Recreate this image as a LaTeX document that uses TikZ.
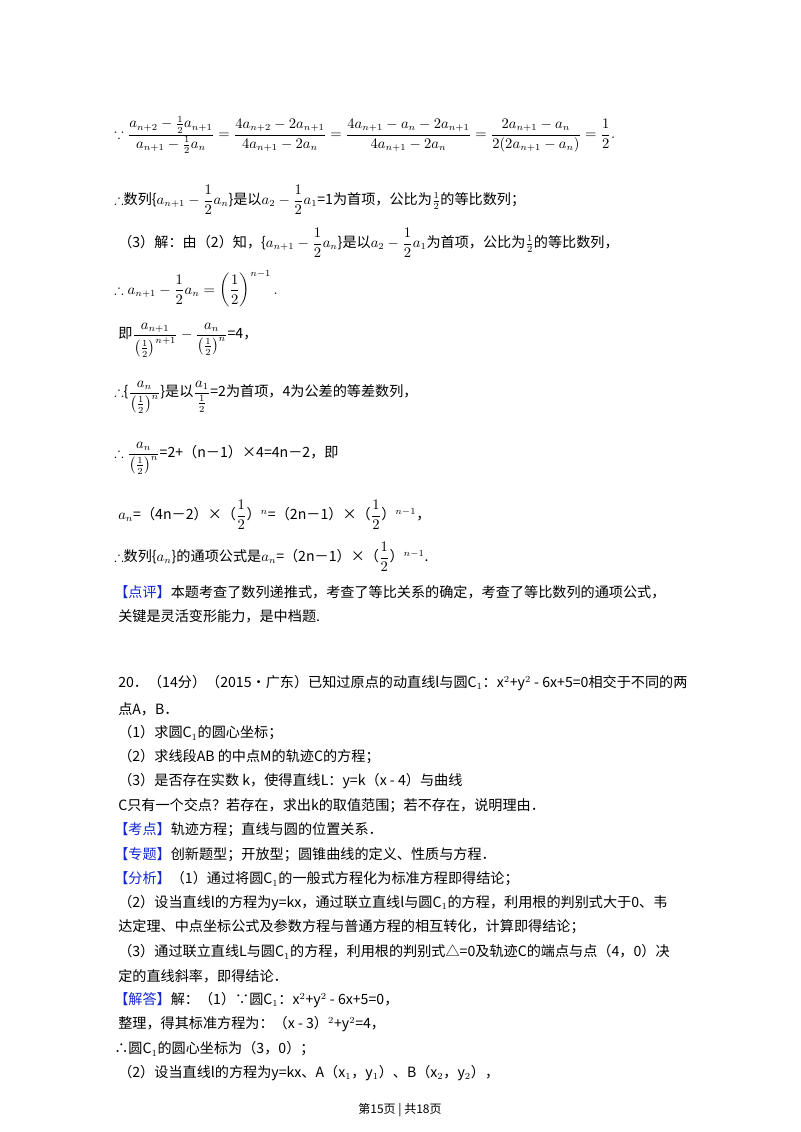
\documentclass[tikz,border=0pt]{standalone}
\usepackage{amsmath,amssymb}
\usepackage{fontspec}
\setmainfont{Noto Sans CJK SC}
\definecolor{kw}{RGB}{20,40,210}
\begin{document}
\begin{tikzpicture}[x=0.75pt,y=-0.75pt,
  ln/.style={anchor=west,inner sep=0pt,font=\fontsize{10.6}{13}\selectfont}]
\useasboundingbox[fill=white] (0,0) rectangle (800,1132);
\node[ln] (l1) at (114,135) {$\because\dfrac{a_{n+2}-\frac12 a_{n+1}}{a_{n+1}-\frac12 a_n}=\dfrac{4a_{n+2}-2a_{n+1}}{4a_{n+1}-2a_n}=\dfrac{4a_{n+1}-a_n-2a_{n+1}}{4a_{n+1}-2a_n}=\dfrac{2a_{n+1}-a_n}{2(2a_{n+1}-a_n)}=\dfrac12.$};
\node[ln] (l2) at (114,200) {$\therefore$数列\{$a_{n+1}-\dfrac12a_n$\}是以$a_2-\dfrac12a_1$=1为首项，公比为$\frac12$的等比数列；};
\node[ln] (l3) at (118,243) {（3）解：由（2）知，\{$a_{n+1}-\dfrac12a_n$\}是以$a_2-\dfrac12a_1$为首项，公比为$\frac12$的等比数列，};
\node[ln] (l4) at (114,289) {$\therefore a_{n+1}-\dfrac12a_n=\left(\dfrac12\right)^{n-1}.$};
\node[ln] (l5) at (118,340) {即$\dfrac{a_{n+1}}{\left(\frac12\right)^{n+1}}-\dfrac{a_n}{\left(\frac12\right)^{n}}$=4，};
\node[ln] (l6) at (114,397) {$\therefore$\{$\dfrac{a_n}{\left(\frac12\right)^{n}}$\}是以$\dfrac{a_1}{\frac12}$=2为首项，4为公差的等差数列，};
\node[ln] (l7) at (114,458) {$\therefore\dfrac{a_n}{\left(\frac12\right)^{n}}$=2+（n－1）×4=4n－2，即};
\node[ln] (l8) at (118,515) {$a_n$=（4n－2）×（$\dfrac12$）$^{n}$=（2n－1）×（$\dfrac12$）$^{n-1}$，};
\node[ln] (l9) at (114,557) {$\therefore$数列\{$a_n$\}的通项公式是$a_n$=（2n－1）×（$\dfrac12$）$^{n-1}$.};
\node[ln] (l10) at (114,592) {\textcolor{kw}{【点评】}本题考查了数列递推式，考查了等比关系的确定，考查了等比数列的通项公式，};
\node[ln] (l11) at (118,616) {关键是灵活变形能力，是中档题.};
\node[ln] (l12) at (118,683) {20．（14分）（2015•广东）已知过原点的动直线l与圆C$_1$：x$^2$+y$^2$ - 6x+5=0相交于不同的两};
\node[ln] (l13) at (118,709) {点A，B．};
\node[ln] (l14) at (118,733) {（1）求圆C$_1$的圆心坐标；};
\node[ln] (l15) at (118,757) {（2）求线段AB 的中点M的轨迹C的方程；};
\node[ln] (l16) at (118,781) {（3）是否存在实数 k，使得直线L：y=k（x - 4）与曲线};
\node[ln] (l17) at (118,806) {C只有一个交点？若存在，求出k的取值范围；若不存在，说明理由．};
\node[ln] (l18) at (114,830) {\textcolor{kw}{【考点】}轨迹方程；直线与圆的位置关系．};
\node[ln] (l19) at (114,855) {\textcolor{kw}{【专题】}创新题型；开放型；圆锥曲线的定义、性质与方程．};
\node[ln] (l20) at (114,879) {\textcolor{kw}{【分析】}（1）通过将圆C$_1$的一般式方程化为标准方程即得结论；};
\node[ln] (l21) at (118,903) {（2）设当直线l的方程为y=kx，通过联立直线l与圆C$_1$的方程，利用根的判别式大于0、韦};
\node[ln] (l22) at (118,927) {达定理、中点坐标公式及参数方程与普通方程的相互转化，计算即得结论；};
\node[ln] (l23) at (118,952) {（3）通过联立直线L与圆C$_1$的方程，利用根的判别式△=0及轨迹C的端点与点（4，0）决};
\node[ln] (l24) at (118,976) {定的直线斜率，即得结论．};
\node[ln] (l25) at (114,1000) {\textcolor{kw}{【解答】}解：（1）∵圆C$_1$：x$^2$+y$^2$ - 6x+5=0，};
\node[ln] (l26) at (118,1024) {整理，得其标准方程为：（x - 3）$^2$+y$^2$=4，};
\node[ln] (l27) at (114,1049) {∴圆C$_1$的圆心坐标为（3，0）；};
\node[ln] (l28) at (118,1073) {（2）设当直线l的方程为y=kx、A（x$_1$，y$_1$）、B（x$_2$，y$_2$），};
\node[ln,anchor=center,font=\fontsize{9}{11}\selectfont] (ft) at (400,1110) {第15页 | 共18页};
\end{tikzpicture}
\end{document}
